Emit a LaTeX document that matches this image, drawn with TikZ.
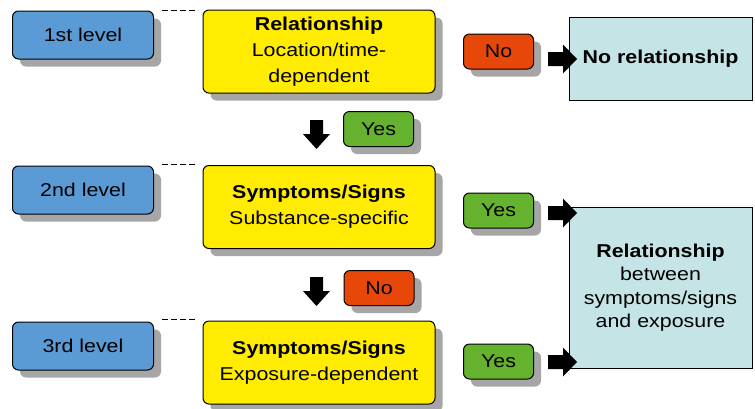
\documentclass[tikz,border=0pt]{standalone}
\usepackage{fontspec}
\setmainfont[FakeStretch=1.15]{Liberation Sans}
\usetikzlibrary{shadows}
\definecolor{lvlblue}{HTML}{5A9BD6}
\definecolor{qyellow}{HTML}{FFEC00}
\definecolor{nored}{HTML}{E8470A}
\definecolor{yesgreen}{HTML}{64B22E}
\definecolor{rescyan}{HTML}{C5E4E5}
\definecolor{shadowgray}{HTML}{A6A6A6}
\tikzset{
  shadowed/.style={drop shadow={shadow xshift=7.5pt, shadow yshift=-7.5pt, fill=shadowgray, opacity=1}},
  basebox/.style={draw=black, line width=1pt, rounded corners=6pt, align=center, inner sep=0pt,
    font=\fontsize{18.6}{23.5}\selectfont, shadowed},
  levelbox/.style={basebox, fill=lvlblue, minimum width=141pt, minimum height=48pt},
  qbox/.style={basebox, fill=qyellow, minimum width=232pt, minimum height=83pt,
    font=\fontsize{18.6}{26}\selectfont},
  nobox/.style={basebox, fill=nored, minimum width=70pt, minimum height=35pt},
  yesbox/.style={basebox, fill=yesgreen, minimum width=70pt, minimum height=35pt},
  resbox/.style={draw=black, line width=1pt, fill=rescyan, align=center, inner sep=0pt,
    font=\fontsize{18.6}{23.5}\selectfont, minimum width=183pt},
  dashline/.style={draw=black, line width=0.8pt, dash pattern=on 6pt off 3pt},
}
\begin{document}
\begin{tikzpicture}[x=1pt, y=-1pt]
\useasboundingbox (0,0) rectangle (755,408);
% level boxes
\node[levelbox] (l1) at (83,35) {1st level};
\node[levelbox] (l2) at (83,190) {2nd level};
\node[levelbox] (l3) at (83,346) {3rd level};
% question boxes
\node[qbox] (q1) at (319,51.5) {\textbf{Relationship}\\Location/time-\\dependent};
\node[qbox] (q2) at (319,207) {\textbf{Symptoms/Signs}\\Substance-specific};
\node[qbox] (q3) at (319,362.5) {\textbf{Symptoms/Signs}\\Exposure-dependent};
% dashed ties
\coordinate (d1a) at (162,10); \coordinate (d1b) at (196,10);
\coordinate (d2a) at (162,164); \coordinate (d2b) at (196,164);
\coordinate (d3a) at (162,319); \coordinate (d3b) at (196,319);
\draw[dashline] (d1a) -- (d1b);
\draw[dashline] (d2a) -- (d2b);
\draw[dashline] (d3a) -- (d3b);
% answer boxes
\node[nobox] (no1) at (498.5,51.5) {No};
\node[yesbox] (yes1) at (378.5,129) {Yes};
\node[yesbox] (yes2) at (498.5,210.5) {Yes};
\node[nobox] (no2) at (379,288) {No};
\node[yesbox] (yes3) at (498.5,361.5) {Yes};
% result boxes
\node[resbox, minimum height=83pt] (nr) at (660.5,58.5) {\textbf{No relationship}};
\node[resbox, minimum height=161pt] (rb) at (660.5,287.5) {\textbf{Relationship}\\between\\symptoms/signs\\and exposure};
% block arrows (right)
\foreach \yy in {59,213,362}{
  \fill[black] (548,\yy-7) -- (563,\yy-7) -- (563,\yy-14.5) -- (577,\yy) -- (563,\yy+14.5) -- (563,\yy+7) -- (548,\yy+7) -- cycle;
}
% block arrows (down)
\foreach \yy in {120,277}{
  \fill[black] (310,\yy) -- (323,\yy) -- (323,\yy+14) -- (330,\yy+14) -- (316.5,\yy+29) -- (303,\yy+14) -- (310,\yy+14) -- cycle;
}
\end{tikzpicture}
\end{document}
